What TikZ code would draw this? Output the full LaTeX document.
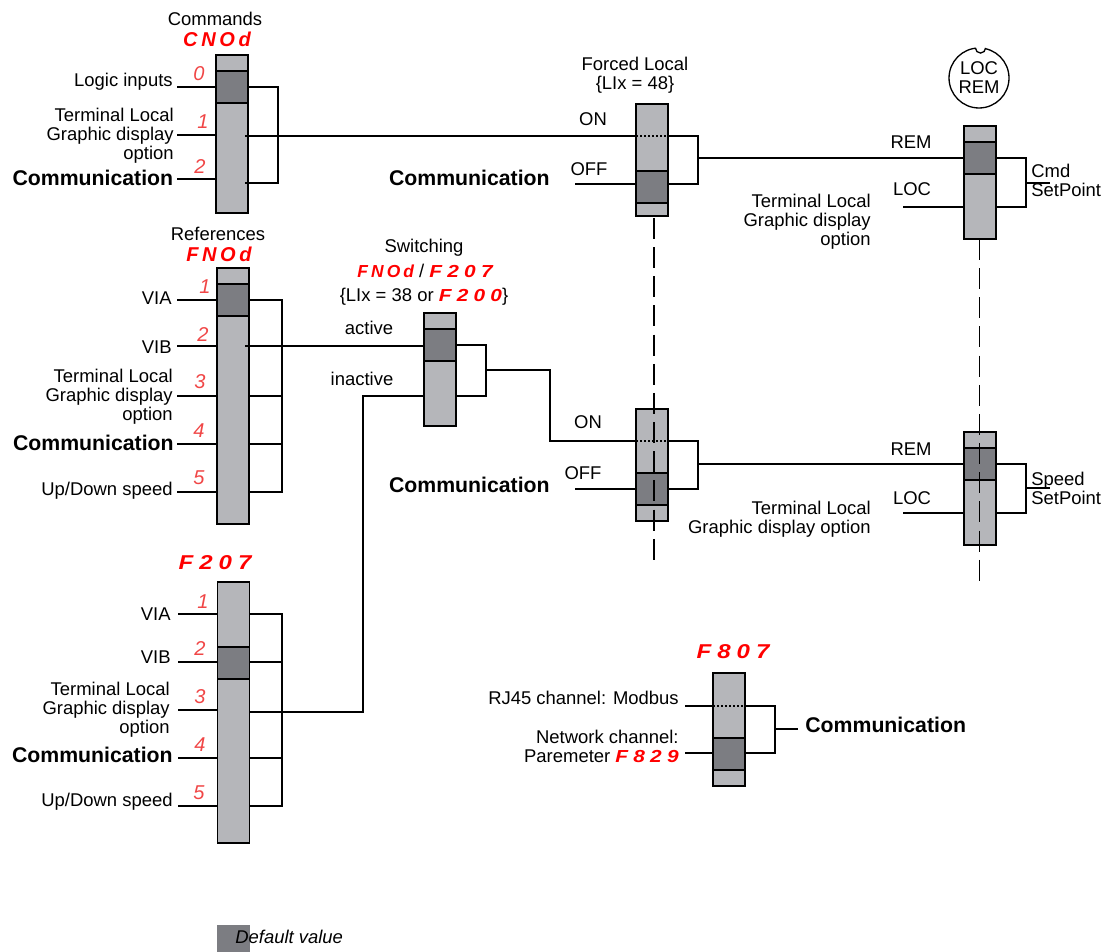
\documentclass[tikz,border=0pt]{standalone}
\usepackage{fontspec}
\setmainfont{Liberation Sans}
\newfontfamily\segfont[LetterSpace=30,FakeStretch=1.2]{Liberation Sans}
\newfontfamily\segnarrow[LetterSpace=18]{Liberation Sans}
\usepackage{tikz}
\usetikzlibrary{positioning}
\definecolor{barcol}{RGB}{181,182,186}
\definecolor{selcol}{RGB}{124,125,130}
\definecolor{segred}{RGB}{255,0,0}
\definecolor{numred}{RGB}{240,70,70}
\newcommand{\segtxt}[2][11.4]{{\color{segred}\segfont\fontsize{#1}{#1}\selectfont\bfseries\itshape #2}}
\newcommand{\segnar}[2][11.4]{{\color{segred}\segnarrow\fontsize{#1}{#1}\selectfont\bfseries\itshape #2}}
\tikzset{
  bar/.style={draw,line width=0.85pt,fill=barcol,minimum width=0.64cm,inner sep=0pt,outer sep=0pt,anchor=north},
  sel/.style={draw,line width=0.95pt,fill=selcol,minimum width=0.64cm,minimum height=0.64cm,inner sep=0pt,outer sep=0pt,anchor=north},
  wire/.style={line width=0.75pt},
  cut/.style={line width=0.7pt,dash pattern=on 11.9pt off 4.7pt},
  dots/.style={line width=0.9pt,dash pattern=on 1pt off 1.3pt},
  lbl/.style={font=\fontsize{10.5}{10.8}\selectfont,align=right,inner sep=0pt,anchor=east},
  mid/.style={font=\fontsize{10.5}{10.8}\selectfont,align=center,inner sep=0pt},
  lft/.style={font=\fontsize{10.5}{10.8}\selectfont,align=left,inner sep=0pt,anchor=west},
  com/.style={font=\fontsize{12.1}{13}\selectfont\bfseries,inner sep=0pt,anchor=east},
  num/.style={font=\fontsize{11.4}{11.4}\selectfont\itshape,text=numred,inner sep=0pt}
}
\begin{document}
\begin{tikzpicture}[x=0.02cm,y=-0.02cm]
\useasboundingbox (0,0) rectangle (1111,952);
% bars
\node[bar,minimum height=3.16cm] (cmdbar) at (232,55) {};
\node[sel] (cmdsel) at (232,71) {};
\node[bar,minimum height=5.12cm] (refbar) at (233,268) {};
\node[sel] (refsel) at (233,284) {};
\node[bar,minimum height=5.22cm] (fbar) at (233.5,582) {};
\node[sel] (fsel) at (233.5,647) {};
\node[bar,minimum height=2.26cm] (swbar) at (440,313) {};
\node[sel] (swsel) at (440,329) {};
\node[bar,minimum height=2.24cm] (flocA) at (652,104) {};
\node[sel] (flocAsel) at (652,171) {};
\node[bar,minimum height=2.24cm] (flocB) at (652,409) {};
\node[sel] (flocBsel) at (652,473) {};
\node[bar,minimum height=2.26cm] (lrA) at (980,126) {};
\node[sel] (lrAsel) at (980,142) {};
\node[bar,minimum height=2.26cm] (lrB) at (980,432) {};
\node[sel] (lrBsel) at (980,448) {};
\node[bar,minimum height=2.26cm] (chbar) at (729,673) {};
\node[sel] (chsel) at (729,738) {};
% commands
\node[mid] (cmdtitle) at (215,19) {Commands};
\node[inner sep=0pt] (cmdseg) at (217,39) {\segnar{CNOd}};
\node[lbl] (cmdlogic) at (173,82) {Logic inputs};
\node[lbl] (cmdterm) at (174,136) {Terminal Local\\Graphic display\\option};
\node[com] (cmdcom) at (173.5,178) {Communication};
\node[num] (cmdn0) at (199,74) {0};
\node[num] (cmdn1) at (203,122) {1};
\node[num] (cmdn2) at (200,167) {2};
\coordinate (c0) at (177,87); \coordinate (c1) at (177,135); \coordinate (c2) at (177,179);
\coordinate (cr1) at (245,136); \coordinate (cr2) at (245,183); \coordinate (cbus) at (278,87);
\draw[wire] (c0)--(c0-|cmdbar.west); \draw[wire] (c1)--(c1-|cmdbar.west); \draw[wire] (c2)--(c2-|cmdbar.west);
\draw[wire] (cmdbar.east|-c0)--(cbus)--(cbus|-cr2)--(cr2);
% references
\node[mid] (reftitle) at (218,234) {References};
\node[inner sep=0pt] (refseg) at (219,254) {\segnar{FNOd}};
\node[lbl] (refvia) at (172,298) {VIA};
\node[lbl] (refvib) at (172,347) {VIB};
\node[lbl] (refterm) at (173,397) {Terminal Local\\Graphic display\\option};
\node[com] (refcom) at (174,443) {Communication};
\node[lbl] (refup) at (173,491) {Up/Down speed};
\node[num] (refn1) at (205,287) {1};
\node[num] (refn2) at (203,335) {2};
\node[num] (refn3) at (200,382) {3};
\node[num] (refn4) at (199,431) {4};
\node[num] (refn5) at (199,478) {5};
\coordinate (r1) at (177,300); \coordinate (r2) at (177,346); \coordinate (r3) at (177,396); \coordinate (r4) at (177,444); \coordinate (r5) at (177,492);
\coordinate (rbus) at (282,300);
\draw[wire] (r1)--(r1-|refbar.west); \draw[wire] (r2)--(r2-|refbar.west); \draw[wire] (r3)--(r3-|refbar.west);
\draw[wire] (r4)--(r4-|refbar.west); \draw[wire] (r5)--(r5-|refbar.west);
\draw[wire] (refbar.east|-r1)--(rbus)--(rbus|-r5)--(refbar.east|-r5);
\draw[wire] (refbar.east|-r3)--(rbus|-r3); \draw[wire] (refbar.east|-r4)--(rbus|-r4);
% F207
\node[inner sep=0pt] (fseg) at (215,563) {\segtxt{F207}};
\node[lbl] (fvia) at (171,614) {VIA};
\node[lbl] (fvib) at (171,657) {VIB};
\node[lbl] (fterm) at (170,710) {Terminal Local\\Graphic display\\option};
\node[com] (fcom) at (173,755) {Communication};
\node[lbl] (fup) at (173,802) {Up/Down speed};
\node[num] (fn1) at (203,602) {1};
\node[num] (fn2) at (200,649) {2};
\node[num] (fn3) at (200,697) {3};
\node[num] (fn4) at (200,745) {4};
\node[num] (fn5) at (199,793) {5};
\coordinate (f1) at (178,614); \coordinate (f2) at (178,662); \coordinate (f3) at (178,710); \coordinate (f4) at (178,758); \coordinate (f5) at (178,806);
\coordinate (fbus) at (282,614); \coordinate (fout) at (363,712);
\draw[wire] (f1)--(f1-|fbar.west); \draw[wire] (f2)--(f2-|fbar.west); \draw[wire] (f3)--(f3-|fbar.west);
\draw[wire] (f4)--(f4-|fbar.west); \draw[wire] (f5)--(f5-|fbar.west);
\draw[wire] (fbar.east|-f1)--(fbus)--(fbus|-f5)--(fbar.east|-f5);
\draw[wire] (fbar.east|-f2)--(fbus|-f2); \draw[wire] (fbar.east|-f4)--(fbus|-f4);
% switching
\node[mid] (swtitle) at (424,248) {Switching};
\node[mid] (swseg) at (425,271) {\segnar[9.9]{FNOd} / \segtxt[9.9]{F207}};
\node[mid] (swcond) at (424,296.5) {\{LIx = 38 or \segtxt[9.9]{F200}\}};
\node[mid] (swact) at (369,328) {active};
\node[mid] (swina) at (362,379) {inactive};
\coordinate (sa) at (245,346); \coordinate (si) at (363,396); \coordinate (sbus) at (486,345); \coordinate (sout) at (550,370);
\draw[wire] (sa)--(sa-|swbar.west);
\draw[wire] (fbar.east|-fout)--(fout)--(si)--(si-|swbar.west);
\draw[wire] (swbar.east|-sbus)--(sbus)--(sbus|-si)--(swbar.east|-si);
% forced local
\node[mid] (fltitle) at (635,75.5) {Forced Local\\\{LIx = 48\}};
\node[mid] (flonA) at (593,119) {ON};
\node[mid] (floffA) at (589,169) {OFF};
\node[com] (flcomA) at (550,178) {Communication};
\node[mid] (flonB) at (588,422) {ON};
\node[mid] (floffB) at (583,473) {OFF};
\node[com] (flcomB) at (550,485) {Communication};
\coordinate (aon) at (638,136); \coordinate (aoff) at (575,184); \coordinate (abus) at (698,136); \coordinate (bon) at (636,441); \coordinate (boff) at (575,489); \coordinate (bbus) at (698,441);
\draw[wire] (cr1)--(aon-|flocA.west);
\draw[dots] (aon-|flocA.west)--(aon-|flocA.east);
\draw[wire] (aon-|flocA.east)--(abus)--(abus|-aoff)--(aoff-|flocA.east);
\draw[wire] (aoff)--(aoff-|flocA.west);
\draw[wire] (sbus|-sout)--(sout)--(sout|-bon)--(bon);
\draw[dots] (bon)--(bon-|flocB.east);
\draw[wire] (bon-|flocB.east)--(bbus)--(bbus|-boff)--(boff-|flocB.east);
\draw[wire] (boff)--(boff-|flocB.west);
% loc rem
\node[draw,wire,circle,minimum size=1.2cm,inner sep=0pt,mid] (dial) at (979,78) {LOC\\REM};
\coordinate (notch) at (980.5,48.5);
\fill[white] (notch) circle (3pt);
\draw[wire] ([xshift=-2.9pt,yshift=0.3pt]notch) arc[start angle=180,end angle=360,radius=2.9pt];
\node[mid] (remA) at (911,142) {REM};
\node[mid] (locA) at (912,189) {LOC};
\node[lbl] (termA) at (871,222) {Terminal Local\\Graphic display\\option};
\node[lft] (spA) at (1031,180) {Cmd\\SetPoint};
\node[mid] (remB) at (911,449) {REM};
\node[mid] (locB) at (912,498) {LOC};
\node[lbl] (termB) at (871,519) {Terminal Local\\Graphic display option};
\node[lft] (spB) at (1031,488) {Speed\\SetPoint};
\coordinate (la) at (903,207); \coordinate (lb) at (903,513); \coordinate (lbusA) at (1026,158); \coordinate (lbusB) at (1026,464);
\coordinate (oA) at (1050,183); \coordinate (oB) at (1050,488);
\draw[wire] (abus|-lbusA)--(lbusA-|lrA.west);
\draw[wire] (la)--(la-|lrA.west);
\draw[wire] (lrA.east|-lbusA)--(lbusA)--(lbusA|-la)--(la-|lrA.east);
\draw[wire] (lbusA|-oA)--(oA);
\draw[wire] (bbus|-lbusB)--(lbusB-|lrB.west);
\draw[wire] (lb)--(lb-|lrB.west);
\draw[wire] (lrB.east|-lbusB)--(lbusB)--(lbusB|-lb)--(lb-|lrB.east);
\draw[wire] (lbusB|-oB)--(oB);
% mechanical links
\coordinate (kA) at (654,218); \coordinate (kB) at (654,561); \coordinate (mA) at (979.5,239); \coordinate (mB) at (979.5,582);
\draw[cut] (kA)--(kB); \draw[cut] (mA)--(mB);
% channel
\node[inner sep=0pt] (chseg) at (733,652) {\segtxt{F807}};
\node[lbl] (chrj) at (679,698) {RJ45 channel: Modbus};
\node[lbl] (chnet) at (679,746) {Network channel:\\Paremeter \segtxt[9.9]{F829}};
\node[com,anchor=west] (chcom) at (805,725) {Communication};
\coordinate (h1) at (685,706); \coordinate (h2) at (685,753); \coordinate (hbus) at (775,706); \coordinate (hout) at (798,729);
\draw[wire] (h1)--(h1-|chbar.west);
\draw[dots] (h1-|chbar.west)--(h1-|chbar.east);
\draw[wire] (h1-|chbar.east)--(hbus)--(hbus|-h2)--(h2-|chbar.east);
\draw[wire] (h2)--(h2-|chbar.west);
\draw[wire] (hbus|-hout)--(hout);
% legend
\fill[selcol] (217,925) rectangle (250,952);
\node[lft,font=\fontsize{10.5}{10.8}\selectfont\itshape] (deflt) at (235,937) {Default value};
\end{tikzpicture}
\end{document}
